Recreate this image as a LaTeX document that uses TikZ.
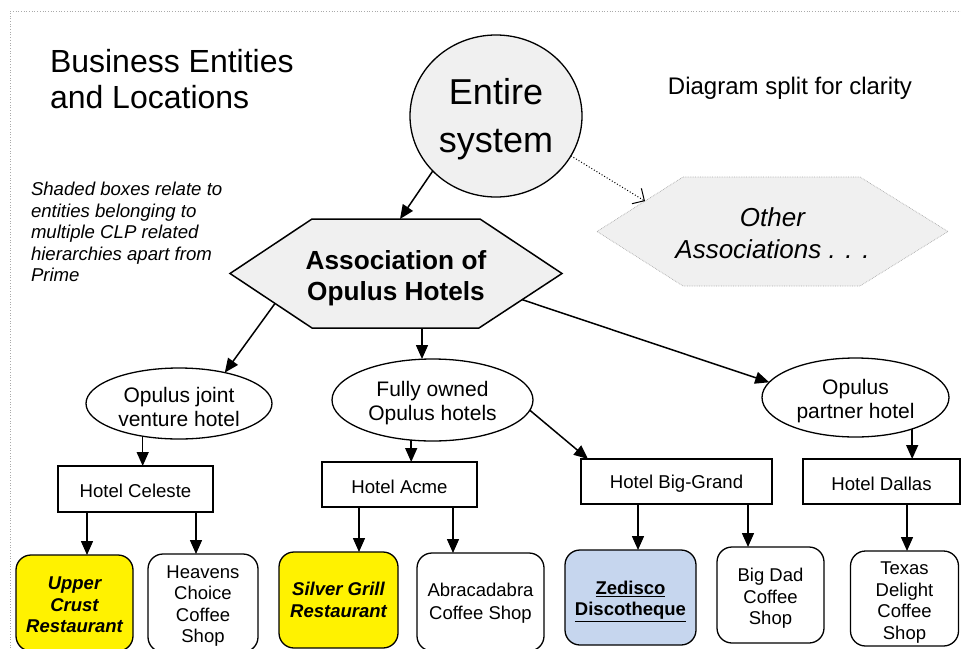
\documentclass[tikz,border=0pt]{standalone}
\usepackage{fontspec}
\setmainfont{Liberation Sans}
\usetikzlibrary{arrows.meta,shapes.geometric,backgrounds,calc}
\definecolor{gfill}{RGB}{240,240,240}
\definecolor{zblue}{RGB}{198,214,238}
\definecolor{frame}{RGB}{170,170,170}
\newcommand\fsz[2]{\fontsize{#1}{#2}\selectfont}
\newcommand\tup[1]{\rule{0pt}{#1}}
\begin{document}
\begin{tikzpicture}[x=1pt,y=-1pt,
  every node/.style={inner sep=0pt, outer sep=0pt},
  tdown/.style={execute at begin node={\rule{0pt}{#1}}},
  arr/.style={line width=1.5pt, -{Triangle[length=14pt,width=12pt]}},
  dotarr/.style={line width=1pt, dotted, -{Straight Barb[length=9pt,width=18pt,line width=1pt]}},
  entbox/.style={ellipse, draw, fill=gfill, line width=1.3pt, align=center, font=\fsz{36}{48}},
  hexline/.style={draw, fill=gfill, line width=1.5pt, line join=miter},
  hexlight/.style={draw=frame, fill=gfill, line width=0.7pt, densely dotted},
  oval/.style={ellipse, draw, line width=1.3pt, align=center, font=\fsz{21}{24}},
  hotel/.style={rectangle, draw, line width=1.5pt, font=\fsz{18.6}{21.5}, tdown=17.6pt},
  shop/.style={rectangle, rounded corners=15pt, draw, line width=1.3pt, align=center, font=\fsz{18.5}{21.5}},
  hot/.style={font=\bfseries\itshape\fsz{18.5}{21.5}},
  plain/.style={align=left}]
\useasboundingbox (0,0) rectangle (961,648);
\clip (0,0) rectangle (961,648);
\draw[frame, dotted, line width=0.7pt] (10,648) -- (10,11) -- (961,11);

% texts
\node[plain, anchor=west, font=\fsz{32}{36}] (title) at (50,79) {Business Entities\\and Locations};
\node[plain, anchor=west, font=\itshape\fsz{18.6}{21.5}] (note) at (31,232) {Shaded boxes relate to\\entities belonging to\\multiple CLP related\\hierarchies apart from\\Prime};
\node[font=\fsz{24}{28}] (split) at (790,88) {Diagram split for clarity};

% top level
\node[entbox, minimum width=172pt, minimum height=162pt] (entire) at (496,116) {\tup{32pt}Entire\\system};
\node[align=center, minimum width=332pt, minimum height=109pt,
  font=\bfseries\fsz{26.2}{31}] (assoc) at (396,273.5) {\tup{29pt}Association of\\Opulus Hotels};
\node[align=center, minimum width=351pt, minimum height=109pt,
  font=\itshape\fsz{26}{32}] (other) at (772.5,231.5) {\tup{23pt}Other\\Associations . . .};
\begin{pgfonlayer}{background}
\path[hexline] (assoc.west) -- ([xshift=82pt]assoc.north west) coordinate (aTL)
  -- ([xshift=-82pt]assoc.north east) coordinate (aTR) -- (assoc.east)
  -- ([xshift=-83pt]assoc.south east) coordinate (aBR)
  -- ([xshift=82pt]assoc.south west) coordinate (aBL) -- cycle;
\path[hexlight] (other.west) -- ([xshift=86pt]other.north west) coordinate (oTL)
  -- ([xshift=-88pt]other.north east) coordinate (oTR) -- (other.east)
  -- ([xshift=-88pt]other.south east) coordinate (oBR)
  -- ([xshift=86pt]other.south west) coordinate (oBL) -- cycle;
\end{pgfonlayer}
\coordinate (aOutL) at ($(assoc.west)!0.549!(aBL)$);
\coordinate (aOutR) at ($(assoc.east)!0.48!(aBR)$);
\coordinate (oIn) at ($(other.west)!0.558!(oTL)$);

% second level
\node[oval, minimum width=186pt, minimum height=71pt] (joint) at (179,403.5) {\tup{22.3pt}Opulus joint\\venture hotel};
\node[oval, minimum width=201pt, minimum height=82pt] (fully) at (432.5,400) {\tup{21pt}Fully owned\\Opulus hotels};
\node[oval, minimum width=187pt, minimum height=79pt] (partner) at (855.5,397.5) {\tup{22.3pt}Opulus\\partner hotel};

% hotels
\node[hotel, minimum width=155pt, minimum height=46pt] (celeste) at (135.5,489) {Hotel Celeste};
\node[hotel, minimum width=155pt, minimum height=45pt] (acme) at (399.5,484.5) {Hotel Acme};
\node[hotel, minimum width=191pt, minimum height=45pt] (biggrand) at (676.5,481.5) {Hotel Big-Grand};
\node[hotel, minimum width=157pt, minimum height=45pt] (dallas) at (881.5,481.5) {Hotel Dallas};

% shops
\node[shop, hot, fill=yellow, minimum width=117pt, minimum height=96pt] (upper) at (74.5,603) {\tup{16.5pt}Upper\\Crust\\Restaurant};
\node[shop, minimum width=110pt, minimum height=98pt] (heavens) at (203,603) {\tup{18.5pt}Heavens\\Choice\\Coffee\\Shop};
\node[shop, hot, fill=yellow, minimum width=119pt, minimum height=96pt] (silver) at (338.5,600) {Silver Grill\\Restaurant};
\node[shop, minimum width=127pt, minimum height=98pt, font=\fsz{18.5}{23}] (abra) at (480.5,602) {\tup{16pt}Abracadabra\\Coffee Shop};
\node[shop, fill=zblue, font=\bfseries\fsz{18.5}{21.5}, minimum width=131pt, minimum height=95pt] (zedisco) at (630.5,597.5) {\tup{21pt}\underline{Zedisco}\\\underline{Discotheque}};
\node[shop, minimum width=107pt, minimum height=96pt] (bigdad) at (770.5,595) {\tup{20pt}Big Dad\\Coffee\\Shop};
\node[shop, minimum width=108pt, minimum height=95pt] (texas) at (904.5,598.5) {\tup{21pt}Texas\\Delight\\Coffee\\Shop};

% connectors
\draw[arr] (entire.221) -- (assoc.north -| 400,0);
\draw[dotarr] (entire.332) -- (oIn);
\draw[arr] (aOutL) -- (joint.34);
\draw[arr] (assoc.south -| 422,0) -- (fully.north -| 422,0);
\draw[arr] (aOutR) -- (partner.170);
\draw[arr] (joint.222) -- (joint.222 |- celeste.north);
\draw[arr] (fully.242) -- (fully.242 |- acme.north);
\draw[arr] (fully.354) -- ([xshift=7pt]biggrand.north west);
\draw[arr] (partner.331) -- (partner.331 |- dallas.north);
\draw[arr] (celeste.south -| 87,0) -- (upper.north -| 87,0);
\draw[arr] (celeste.south -| 196,0) -- (heavens.north -| 196,0);
\draw[arr] (acme.south -| 359,0) -- (silver.north -| 359,0);
\draw[arr] (acme.south -| 453,0) -- (abra.north -| 453,0);
\draw[arr] (biggrand.south -| 638,0) -- (zedisco.north -| 638,0);
\draw[arr] (biggrand.south -| 748,0) -- (bigdad.north -| 748,0);
\draw[arr] (dallas.south -| 907,0) -- (texas.north -| 907,0);
\end{tikzpicture}
\end{document}
